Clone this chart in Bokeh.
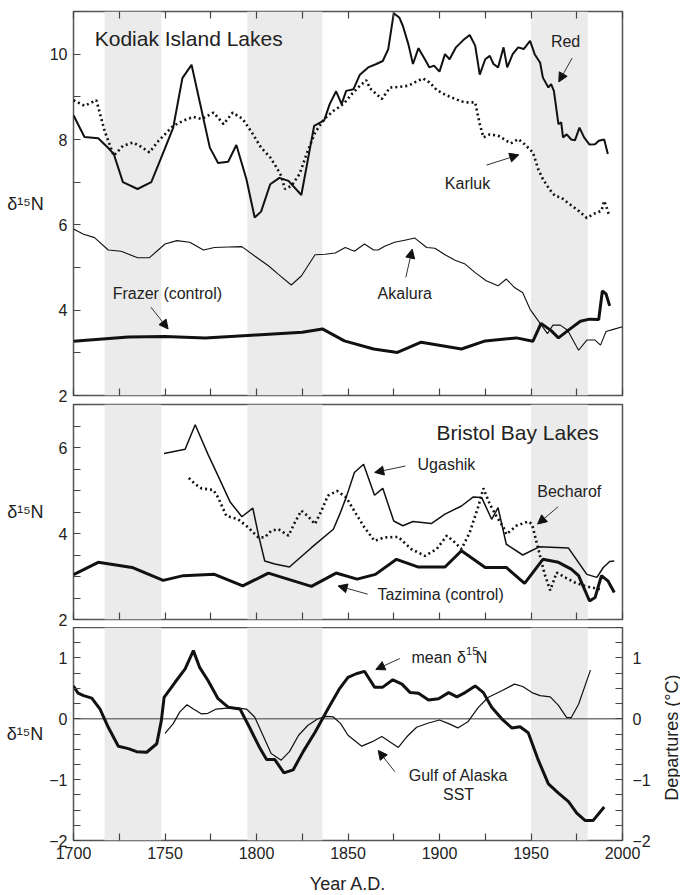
import math
from bokeh.plotting import figure
from bokeh.models import (Range1d, FixedTicker, LinearAxis, BoxAnnotation, Label,
                          Arrow, NormalHead, Span, CustomLabelingPolicy)
from bokeh.layouts import column, row
from bokeh.embed import file_html
from bokeh.resources import INLINE

FONT = "Liberation Sans"

# ---------------- data ----------------
band_start = [1717, 1795, 1950]
band_end = [1748, 1836, 1981]

x_major = [1700, 1750, 1800, 1850, 1900, 1950, 2000]
x_minor = [1725, 1775, 1825, 1875, 1925, 1975]

# Kodiak Island Lakes
red_year = [1700, 1706, 1713.5, 1719, 1722, 1727, 1735, 1742.5, 1748, 1754.5,
            1759.5, 1764.5, 1774.5, 1779, 1784.5, 1789, 1794.5, 1799, 1802.5, 1807.5,
            1812.5, 1817.5, 1824.5, 1831.5, 1837, 1840, 1843.5, 1846.5, 1849, 1853,
            1856.5, 1861, 1865.5, 1869, 1872, 1875, 1878, 1880, 1883, 1885.5,
            1888.5, 1892, 1894.5, 1897, 1900, 1903, 1905.5, 1909, 1913, 1916.5,
            1919.5, 1922, 1925, 1927.5, 1929.5, 1932, 1935, 1937, 1940, 1943,
            1946, 1949.5, 1952, 1955, 1956.5, 1959.5, 1961, 1962.5, 1965, 1966.5,
            1967.5, 1969.5, 1972, 1974, 1976.5, 1979, 1982, 1985, 1987, 1990, 1992]
red_d15n = [8.57, 8.06, 8.03, 7.8, 7.66, 7.0, 6.84, 7.0, 7.58, 8.28,
            9.44, 9.75, 7.81, 7.45, 7.48, 7.87, 7.07, 6.17, 6.31, 6.95,
            7.1, 7.03, 6.70, 8.32, 8.45, 8.83, 9.13, 8.83, 9.14, 9.18,
            9.52, 9.69, 9.77, 9.84, 10.12, 10.96, 10.86, 10.66, 10.23, 9.77,
            10.14, 9.88, 9.69, 9.73, 9.59, 10.0, 9.88, 10.16, 10.33, 10.45,
            10.2, 9.52, 9.88, 9.96, 9.77, 9.69, 10.16, 9.69, 10.0, 10.16,
            10.12, 10.31, 10.0, 9.8, 9.45, 9.22, 9.3, 9.14, 8.36, 8.4,
            8.05, 8.12, 8.0, 7.98, 8.28, 8.05, 7.88, 7.89, 7.97, 8.0, 7.66]

karluk_year = [1700, 1706, 1712.5, 1717, 1722, 1727, 1732.5, 1737, 1741.5, 1746.5,
               1754.5, 1760, 1765.5, 1770, 1776.5, 1782, 1787, 1792.5, 1797.5, 1802.5,
               1807.5, 1811, 1813.5, 1815.5, 1819, 1823.5, 1828, 1832, 1837, 1842,
               1847.5, 1852, 1856.5, 1860, 1862, 1868.5, 1873, 1877.5, 1883, 1886.5,
               1891, 1894.5, 1898.5, 1903, 1907.5, 1912, 1915.5, 1919.5, 1922, 1924,
               1927.5, 1932, 1939, 1943, 1946.5, 1951, 1954, 1956.5, 1960, 1963,
               1966.5, 1970, 1976, 1980.5, 1985, 1988.5, 1990, 1991, 1992.5]
karluk_d15n = [8.92, 8.79, 8.92, 8.2, 7.62, 7.85, 7.93, 7.83, 7.7, 7.97,
               8.32, 8.44, 8.53, 8.48, 8.63, 8.36, 8.63, 8.48, 8.16, 7.81,
               7.58, 7.34, 7.15, 6.84, 6.91, 7.19, 7.73, 8.16, 8.48, 8.67,
               8.83, 9.06, 9.26, 9.39, 9.2, 8.95, 9.22, 9.23, 9.26, 9.34,
               9.43, 9.34, 9.16, 9.05, 8.97, 8.89, 8.87, 8.87, 8.36, 8.05,
               8.12, 8.09, 7.91, 8.01, 7.89, 7.7, 7.3, 7.07, 6.84, 6.68,
               6.64, 6.52, 6.33, 6.16, 6.27, 6.33, 6.56, 6.45, 6.25]

akalura_year = [1700, 1705.5, 1711.5, 1719, 1726, 1735, 1741.5, 1750, 1756.5, 1763.5,
                1771, 1777, 1784.5, 1792, 1799, 1806.5, 1812, 1819, 1824.5, 1832,
                1837.5, 1843, 1848.5, 1853.5, 1859, 1864, 1866.5, 1870, 1875.5, 1881,
                1886.5, 1893, 1897.5, 1903, 1908.5, 1914, 1919.5, 1925.5, 1932, 1936.5,
                1941, 1945.5, 1949.5, 1954, 1959, 1962, 1966, 1970, 1976, 1980.5,
                1985, 1988, 1991, 1995, 2000]
akalura_d15n = [5.9, 5.78, 5.7, 5.41, 5.38, 5.23, 5.23, 5.55, 5.63, 5.59,
                5.41, 5.47, 5.48, 5.49, 5.27, 5.04, 4.84, 4.59, 4.8, 5.3,
                5.31, 5.34, 5.47, 5.38, 5.55, 5.41, 5.41, 5.5, 5.59, 5.64,
                5.69, 5.47, 5.45, 5.3, 5.17, 5.08, 4.88, 4.69, 4.57, 4.73,
                4.53, 4.41, 4.02, 3.75, 3.45, 3.65, 3.65, 3.53, 3.06, 3.3,
                3.3, 3.18, 3.5, 3.55, 3.61]

frazer_year = [1700, 1730, 1750, 1772, 1800, 1825, 1836, 1848, 1864, 1877,
               1890, 1912, 1925, 1942, 1951, 1955.5, 1961, 1965, 1971, 1977,
               1982, 1987, 1989, 1991, 1993]
frazer_d15n = [3.27, 3.37, 3.38, 3.35, 3.42, 3.48, 3.56, 3.28, 3.09, 3.01,
               3.25, 3.09, 3.28, 3.35, 3.27, 3.69, 3.52, 3.35, 3.55, 3.74,
               3.79, 3.78, 4.45, 4.38, 4.1]

# Bristol Bay Lakes
ugashik_year = [1749.5, 1761, 1766.5, 1773.5, 1779, 1785.5, 1792, 1798, 1801, 1804.5,
                1810, 1818, 1830, 1842, 1845.5, 1849, 1853.5, 1858.5, 1864.5, 1869,
                1875, 1880, 1885.5, 1895.5, 1903, 1912, 1918.5, 1923, 1928.5, 1932,
                1936.5, 1945.5, 1954.5, 1970.5, 1980.5, 1986, 1989.5, 1993, 1995.5]
ugashik_d15n = [5.86, 5.96, 6.53, 5.84, 5.34, 4.74, 4.39, 4.59, 3.98, 3.36,
                3.29, 3.22, 3.67, 4.1, 4.45, 4.84, 5.42, 5.61, 4.89, 5.05,
                4.29, 4.18, 4.28, 4.23, 4.45, 4.64, 4.85, 4.84, 4.33, 4.6,
                3.75, 3.5, 3.69, 3.66, 3.05, 2.98, 3.21, 3.35, 3.36]

becharof_year = [1763, 1766.5, 1770, 1776.5, 1779, 1783.5, 1790, 1795.5, 1801, 1804.5,
                 1808, 1812, 1817.5, 1821, 1824.5, 1828, 1832, 1835.5, 1839, 1844,
                 1849, 1854.5, 1859, 1864.5, 1870, 1877.5, 1884.5, 1892, 1898.5, 1904,
                 1907.5, 1912, 1916.5, 1921, 1924, 1927.5, 1931, 1935, 1936.5, 1942,
                 1948.5, 1950.5, 1954, 1957.5, 1960.5, 1964, 1968.5, 1974, 1979.5, 1986.5,
                 1988.5]
becharof_d15n = [5.29, 5.15, 5.05, 5.01, 4.84, 4.41, 4.33, 4.14, 3.91, 3.91,
                 4.06, 4.1, 3.95, 4.26, 4.53, 4.41, 4.22, 4.53, 4.88, 4.99,
                 4.84, 4.45, 4.14, 3.83, 3.91, 3.92, 3.64, 3.48, 3.64, 3.95,
                 3.83, 3.64, 4.02, 4.6, 5.05, 4.68, 4.41, 4.14, 3.98, 4.18,
                 4.28, 4.22, 3.64, 3.05, 2.68, 3.09, 2.98, 2.86, 2.78, 2.71,
                 2.71]

tazimina_year = [1700, 1713.5, 1732, 1749, 1760, 1777, 1792.5, 1806.5, 1830, 1843.5,
                 1855, 1865, 1876.5, 1888.5, 1903, 1912, 1925, 1936.5, 1946.5, 1956.5,
                 1965, 1972, 1976, 1982, 1985, 1988.5, 1992, 1995.5]
tazimina_d15n = [3.04, 3.33, 3.21, 2.91, 3.02, 3.05, 2.78, 3.08, 2.77, 3.08,
                 2.94, 3.05, 3.4, 3.22, 3.22, 3.6, 3.21, 3.21, 2.84, 3.4,
                 3.33, 3.17, 3.02, 2.43, 2.51, 3.02, 2.9, 2.63]

# Mean d15N and Gulf of Alaska SST
mean_year = [1700, 1702.5, 1705.5, 1710, 1714.5, 1719, 1724.5, 1730, 1734.5, 1740,
             1745.5, 1748, 1749.5, 1755.5, 1761, 1765.5, 1769, 1773.5, 1779, 1784.5,
             1791, 1796.5, 1802, 1805.5, 1810, 1815, 1820, 1825.5, 1832, 1839,
             1845.5, 1850, 1854.5, 1859, 1864.5, 1869, 1874.5, 1879.5, 1884, 1888.5,
             1894, 1899.5, 1905, 1909.5, 1914, 1919.5, 1924, 1928.5, 1934, 1939.5,
             1944, 1948.5, 1954, 1959.5, 1965, 1970.5, 1975, 1979.5, 1984, 1990]
mean_d15n = [0.54, 0.42, 0.38, 0.34, 0.16, -0.14, -0.45, -0.49, -0.54, -0.55,
             -0.41, -0.03, 0.35, 0.6, 0.82, 1.12, 0.84, 0.63, 0.33, 0.19,
             0.16, -0.16, -0.49, -0.67, -0.67, -0.89, -0.84, -0.54, -0.22, 0.16,
             0.50, 0.68, 0.74, 0.78, 0.52, 0.52, 0.64, 0.57, 0.43, 0.42,
             0.31, 0.33, 0.43, 0.36, 0.43, 0.54, 0.43, 0.19, 0.0, -0.15,
             -0.13, -0.23, -0.68, -1.07, -1.22, -1.36, -1.55, -1.67, -1.67, -1.45]

sst_year = [1750, 1754.5, 1758, 1762, 1765.5, 1770, 1773.5, 1778, 1782.5, 1789,
            1794.5, 1799, 1803.5, 1808, 1813.5, 1818, 1823, 1828, 1833.5, 1838.5,
            1842, 1846, 1850, 1857.5, 1863, 1868.5, 1873, 1877.5, 1882, 1887.5,
            1894, 1900, 1905, 1910, 1915.5, 1921, 1926.5, 1934, 1941, 1945.5,
            1950.5, 1955, 1960.5, 1965, 1969.5, 1972, 1976, 1979.5, 1982.5]
sst_dep = [-0.24, -0.08, 0.11, 0.23, 0.16, 0.08, 0.09, 0.16, 0.17, 0.18,
           0.16, 0.03, -0.27, -0.57, -0.68, -0.54, -0.27, -0.11, 0.0, 0.04,
           0.03, -0.08, -0.27, -0.45, -0.38, -0.29, -0.38, -0.47, -0.3, -0.14,
           -0.07, -0.02, -0.08, -0.15, -0.05, 0.18, 0.35, 0.46, 0.57, 0.53,
           0.43, 0.38, 0.36, 0.22, 0.02, 0.02, 0.24, 0.54, 0.8]

p1_major = [2, 4, 6, 8, 10]
p1_minor = [3, 5, 7, 9, 11]
p2_major = [2, 4, 6]
p2_minor = [2.5, 3, 3.5, 4.5, 5, 5.5, 6.5, 7]
p3_major = [-2, -1, 0, 1]
p3_minor = [-1.75, -1.5, -1.25, -0.75, -0.5, -0.25, 0.25, 0.5, 0.75, 1.25, 1.5]

Y_TITLE = "δ¹⁵N"
Y2_TITLE = "Departures  (°C)"
X_TITLE = "Year A.D."

# ---------------- styling helpers ----------------
INK = "#111111"
FRAME = "#555555"
TXT = "#222222"
HAS_ORIENT = "axis_label_orientation" in LinearAxis.properties()


def base_fig(ymin, ymax, frame_h, top_b, bot_b, right_b=58):
    p = figure(frame_width=549, frame_height=frame_h,
               x_range=Range1d(1700, 2000), y_range=Range1d(ymin, ymax),
               x_axis_type=None, y_axis_type=None,
               output_backend="svg", toolbar_location=None,
               min_border_left=73, min_border_right=right_b,
               min_border_top=top_b, min_border_bottom=bot_b)
    p.outline_line_color = FRAME
    p.outline_line_width = 1.5
    p.background_fill_color = "white"
    p.border_fill_color = "white"
    for s, e in zip(band_start, band_end):
        p.add_layout(BoxAnnotation(left=s, right=e, fill_color="#ebebeb", fill_alpha=1,
                                   line_color=None, level="underlay"))
    return p


def style_axis(ax, labels=True):
    ax.axis_line_color = None
    ax.major_tick_in = 7
    ax.major_tick_out = 0
    ax.minor_tick_in = 7
    ax.minor_tick_out = 0
    ax.major_tick_line_color = "#444444"
    ax.minor_tick_line_color = "#444444"
    ax.major_tick_line_width = 1.2
    ax.minor_tick_line_width = 1.2
    ax.major_label_text_font = FONT
    ax.major_label_text_color = TXT
    ax.axis_label_text_font = FONT
    ax.axis_label_text_font_style = "normal"
    ax.axis_label_text_color = TXT
    ax.axis_label_text_font_size = "18px"
    if labels:
        ax.major_label_text_font_size = "16px"
        ax.major_label_standoff = 6
    else:
        ax.major_label_text_font_size = "1px"
        ax.major_label_standoff = 0
        ax.major_label_policy = CustomLabelingPolicy(
            code="for (const i of indices) { indices.unset(i) }\nreturn indices")
    return ax


def x_axis(labels=False):
    return style_axis(LinearAxis(ticker=FixedTicker(ticks=x_major, minor_ticks=x_minor)), labels)


def y_axis(major, minor, title=None, standoff=3, orient="horizontal"):
    ax = LinearAxis(ticker=FixedTicker(ticks=major, minor_ticks=minor))
    style_axis(ax, True)
    if title:
        ax.axis_label = title
        ax.axis_label_standoff = standoff
        if HAS_ORIENT:
            ax.axis_label_orientation = orient
    return ax


def text(p, x, y, t, size="16px", align="center", baseline="middle", **kw):
    p.add_layout(Label(x=x, y=y, text=t, text_font=FONT, text_font_size=size,
                       text_align=align, text_baseline=baseline, text_color=TXT, **kw))


def arrow(p, x0, y0, x1, y1):
    p.add_layout(Arrow(end=NormalHead(size=9, fill_color=INK, line_color=INK),
                       x_start=x0, y_start=y0, x_end=x1, y_end=y1,
                       line_color="#333333", line_width=1))


# ---------------- panel 1 ----------------
p1 = base_fig(2, 11, 384, 11, 8)
p1.add_layout(y_axis(p1_major, p1_minor, Y_TITLE, 3), "left")
p1.add_layout(x_axis(False), "below")
p1.add_layout(x_axis(False), "above")
p1.line(akalura_year, akalura_d15n, line_color=INK, line_width=1.1)
p1.line(frazer_year, frazer_d15n, line_color=INK, line_width=3)
p1.line(karluk_year, karluk_d15n, line_color=INK, line_width=2.6, line_dash="2 3")
p1.line(red_year, red_d15n, line_color=INK, line_width=2)
text(p1, 1711.6, 10.37, "Kodiak Island Lakes", size="21px", align="left")
text(p1, 1968.9, 10.29, "Red")
arrow(p1, 1972.5, 9.91, 1965.2, 9.35)
text(p1, 1915.3, 6.98, "Karluk")
arrow(p1, 1925.7, 7.40, 1943.3, 7.64)
text(p1, 1881.0, 4.38, "Akalura")
arrow(p1, 1881.6, 4.77, 1885.1, 5.43)
text(p1, 1751.3, 4.40, "Frazer (control)")
arrow(p1, 1742.3, 4.07, 1751.7, 3.56)

# ---------------- panel 2 ----------------
p2 = base_fig(2, 7, 215, 1, 8)
p2.add_layout(y_axis(p2_major, p2_minor, Y_TITLE, 12), "left")
p2.add_layout(x_axis(False), "below")
p2.line(tazimina_year, tazimina_d15n, line_color=INK, line_width=3)
p2.line(becharof_year, becharof_d15n, line_color=INK, line_width=2.6, line_dash="2 3")
p2.line(ugashik_year, ugashik_d15n, line_color=INK, line_width=1.5)
text(p2, 1898.4, 6.34, "Bristol Bay Lakes", size="21px", align="left")
text(p2, 1903.8, 5.61, "Ugashik")
arrow(p2, 1881.4, 5.57, 1864.6, 5.42)
text(p2, 1970.9, 4.97, "Becharof")
arrow(p2, 1964.8, 4.62, 1953.6, 4.22)
text(p2, 1900.6, 2.57, "Tazimina (control)")
arrow(p2, 1860.7, 2.59, 1844.6, 2.78)

# ---------------- panel 3 ----------------
p3 = base_fig(-2, 1.5, 213, 0, 0, right_b=40)
ly = y_axis(p3_major, p3_minor, Y_TITLE, 3)
ly.major_label_overrides = {-1: "\u22121", -2: "\u22122"}
p3.add_layout(ly, "left")
ry = y_axis(p3_major, p3_minor)
ry.major_label_standoff = 10
ry.major_label_overrides = {-1: "\u22121", -2: "\u22122"}
p3.add_layout(ry, "right")
xb = x_axis(True)
xb.axis_label = X_TITLE
xb.axis_label_standoff = 12
p3.add_layout(xb, "below")
p3.add_layout(Span(location=0, dimension="width", line_color="#777777", line_width=1.5,
                   level="underlay"))
p3.line(sst_year, sst_dep, line_color=INK, line_width=1.2)
p3.line(mean_year, mean_d15n, line_color=INK, line_width=3)
text(p3, 1884.7, 1.01, "mean", align="left")
text(p3, 1909.5, 1.01, "δ", align="left")
text(p3, 1914.5, 1.01, "15", size="11px", align="left", y_offset=6)
text(p3, 1919.8, 1.01, "N", align="left")
arrow(p3, 1878.3, 0.99, 1865.2, 0.81)
text(p3, 1910.4, -0.93, "Gulf of Alaska")
text(p3, 1910.4, -1.24, "SST")
arrow(p3, 1875.6, -0.87, 1866.5, -0.52)

# narrow side strip that carries the right-hand axis title (reads bottom to top)
p3r = figure(frame_width=18, frame_height=213, x_range=Range1d(0, 1),
             y_range=p3.y_range, x_axis_type=None, y_axis_type=None,
             output_backend="svg", toolbar_location=None,
             min_border_left=0, min_border_right=0, min_border_top=0, min_border_bottom=0)
p3r.outline_line_color = None
p3r.background_fill_color = "white"
p3r.border_fill_color = "white"
text(p3r, 0.5, -0.27, Y2_TITLE, size="18px", angle=math.pi / 2)

layout = column(p1, p2, row(p3, p3r, spacing=0), spacing=0)
open("out.html", "w").write(file_html(layout, INLINE))
